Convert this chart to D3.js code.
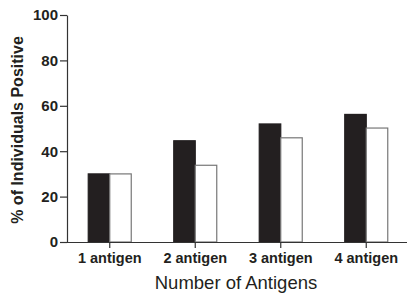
<!DOCTYPE html>
<html lang="en">
<head>
    <meta charset="UTF-8" />
    <title>Antigens</title>
    <script src="https://cdnjs.cloudflare.com/ajax/libs/d3/7.8.5/d3.min.js"></script>
    <style>
        body { margin: 0; padding: 0; background: white; }
        svg { display: block; font-family: 'Liberation Sans', Arial, sans-serif; }
    </style>
</head>
<body>
    <svg id="chart" width="407" height="294"></svg>
    <script>
        const categories = ["1 antigen", "2 antigen", "3 antigen", "4 antigen"];
        const seriesNames = ["A", "B"];
        const blackValues = [30, 44.6, 52, 56.2];
        const whiteValues = [30, 33.8, 45.9, 50.2];
        const yTicks = [0, 20, 40, 60, 80, 100];

        const svg = d3.select("#chart");
        const marginLeft = 67, plotBottom = 242, plotTop = 15;

        const y = d3.scaleLinear().domain([0, 100]).range([plotBottom, plotTop]);
        const x = d3.scaleBand().domain(categories).range([marginLeft, 409]).padding(0);
        const half = x.bandwidth() / 2;
        const sub = d3.scaleBand().domain(seriesNames).range([half - 21.5, half + 21.5]);

        const data = categories.map((c, i) => ({ cat: c, A: blackValues[i], B: whiteValues[i] }));

        const groups = svg.append("g").selectAll("g")
            .data(data)
            .join("g")
            .attr("transform", d => `translate(${x(d.cat)},0)`);

        groups.selectAll("rect")
            .data(d => seriesNames.map(k => ({ key: k, value: d[k] })))
            .join("rect")
            .attr("x", d => sub(d.key))
            .attr("width", sub.bandwidth())
            .attr("y", d => y(d.value))
            .attr("height", d => plotBottom - y(d.value))
            .attr("fill", d => d.key === "A" ? "#231f20" : "white")
            .attr("stroke", d => d.key === "A" ? "#231f20" : "#777")
            .attr("stroke-width", 1.2);

        // y axis
        const yAxis = svg.append("g")
            .attr("transform", `translate(${marginLeft},0)`)
            .call(d3.axisLeft(y).tickValues(yTicks).tickSize(7).tickSizeOuter(0).tickPadding(2));
        yAxis.selectAll("text")
            .attr("font-size", 15).attr("font-weight", "bold").attr("fill", "#231f20")
            .attr("font-family", "'Liberation Sans', Arial, sans-serif");

        // x axis
        const xAxis = svg.append("g")
            .attr("transform", `translate(0,${plotBottom})`)
            .call(d3.axisBottom(x).tickSize(6).tickSizeOuter(0).tickPadding(5));
        xAxis.select(".domain").attr("d", `M${marginLeft},0.5H407`);
        xAxis.selectAll("text")
            .attr("font-size", 14.5).attr("font-weight", "bold").attr("fill", "#231f20")
            .attr("font-family", "'Liberation Sans', Arial, sans-serif");

        svg.selectAll(".domain, .tick line").attr("stroke", "#333").attr("stroke-width", 1.2);

        svg.append("text")
            .attr("x", 236).attr("y", 289)
            .attr("text-anchor", "middle")
            .attr("font-size", 18.5).attr("fill", "#231f20")
            .text("Number of Antigens");

        svg.append("text")
            .attr("transform", "translate(23,130) rotate(-90)")
            .attr("text-anchor", "middle")
            .attr("font-size", 16).attr("font-weight", "bold").attr("fill", "#231f20")
            .text("% of Individuals Positive");
    </script>
</body>
</html>
